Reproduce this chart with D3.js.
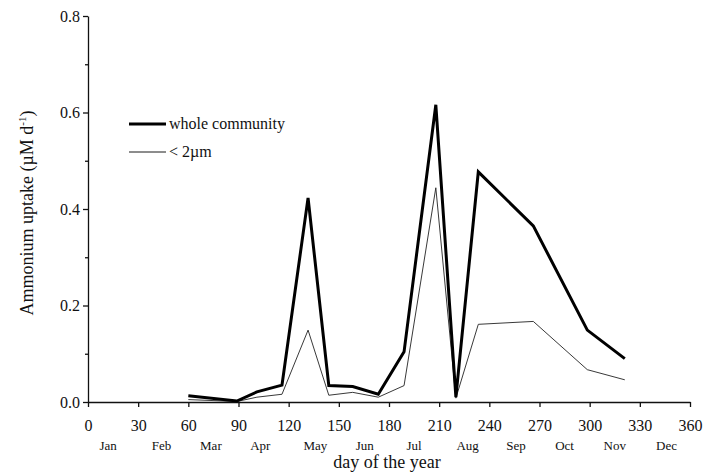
<!DOCTYPE html>
<html>
<head>
<meta charset="utf-8">
<script src="https://cdn.jsdelivr.net/npm/d3@7"></script>
</head>
<body style="margin:0;background:#fff">
<svg id="graph" width="719" height="472"></svg>
<script>
// day of the year for each sampling
const days = [60, 89, 101, 116, 131.6, 144, 158.3, 173.6, 189, 208, 220, 233.4, 266.3, 298.6, 321];
// ammonium uptake, whole community
const wholeCommunity = [0.013, 0.002, 0.021, 0.035, 0.423, 0.034, 0.032, 0.016, 0.104, 0.616, 0.01, 0.477, 0.365, 0.149, 0.09];
// ammonium uptake, < 2 µm fraction
const smallFraction = [0.005, 0.001, 0.01, 0.016, 0.149, 0.014, 0.02, 0.01, 0.034, 0.444, 0.008, 0.161, 0.167, 0.067, 0.046];

const xTicks = d3.range(0, 361, 30);
const yTicks = [0, 0.2, 0.4, 0.6, 0.8];
const yMinorTicks = [0.1, 0.3, 0.5, 0.7];
const monthNames = ["Jan", "Feb", "Mar", "Apr", "May", "Jun", "Jul", "Aug", "Sep", "Oct", "Nov", "Dec"];
const monthDays = [12, 44, 73.5, 103, 136, 165.5, 195, 227, 256, 285, 315, 346];

const serif = "Liberation Serif, serif";

const svg = d3.select("#graph");

const x = d3.scaleLinear().domain([0, 360]).range([88, 690]);
const y = d3.scaleLinear().domain([0, 0.8]).range([402, 16]);

// axes
svg.append("g")
  .attr("transform", `translate(0,${y(0)})`)
  .call(d3.axisBottom(x).tickValues(xTicks).tickSize(5).tickPadding(13).tickSizeOuter(0));

svg.append("g")
  .attr("transform", `translate(${x(0)},0)`)
  .call(d3.axisLeft(y).tickValues(yTicks).tickFormat(d3.format(".1f")).tickSize(5).tickPadding(3).tickSizeOuter(0));

svg.append("g")
  .attr("transform", `translate(${x(0)},0)`)
  .call(d3.axisLeft(y).tickValues(yMinorTicks).tickFormat("").tickSize(3).tickSizeOuter(0))
  .select(".domain").remove();

svg.selectAll("g").attr("font-family", serif);
svg.selectAll(".domain, .tick line").attr("stroke", "#111").attr("stroke-width", 1.3);
svg.selectAll(".tick text")
  .attr("font-size", 16)
  .attr("fill", "#111");

// month labels under the day ticks
svg.append("g")
  .attr("font-family", serif)
  .selectAll("text")
  .data(monthNames)
  .enter()
  .append("text")
  .attr("x", (d, i) => x(monthDays[i]))
  .attr("y", 449.5)
  .attr("text-anchor", "middle")
  .attr("font-size", 13)
  .attr("fill", "#111")
  .text((d) => d);

// axis titles
svg.append("text")
  .attr("x", 387)
  .attr("y", 467.5)
  .attr("text-anchor", "middle")
  .attr("font-family", serif)
  .attr("font-size", 18)
  .attr("fill", "#111")
  .text("day of the year");

const yTitle = svg.append("text")
  .attr("transform", "translate(33,213) rotate(-90)")
  .attr("text-anchor", "middle")
  .attr("font-family", serif)
  .attr("font-size", 18)
  .attr("fill", "#111");
yTitle.append("tspan").text("Ammonium uptake (\u00b5M d");
yTitle.append("tspan").attr("dy", -7).attr("font-size", 11).text("-1");
yTitle.append("tspan").attr("dy", 7).text(")");

// lines
const line = (values) =>
  d3.line()
    .x((d) => x(d))
    .y((d, i) => y(values[i]))(days);

svg.append("path")
  .attr("d", line(smallFraction))
  .attr("fill", "none")
  .attr("stroke", "#222")
  .attr("stroke-width", 0.9)
  .attr("stroke-linejoin", "miter");

svg.append("path")
  .attr("d", line(wholeCommunity))
  .attr("fill", "none")
  .attr("stroke", "#000")
  .attr("stroke-width", 3)
  .attr("stroke-linejoin", "miter");

// legend
const legend = svg.append("g").attr("transform", "translate(129,124)");
const legendItems = [
  { label: "whole community", width: 3 },
  { label: "< 2\u00b5m", width: 0.9 },
];
legend.selectAll("line")
  .data(legendItems)
  .enter()
  .append("line")
  .attr("x1", 0)
  .attr("x2", 37)
  .attr("y1", (d, i) => i * 28)
  .attr("y2", (d, i) => i * 28)
  .attr("stroke", "#000")
  .attr("stroke-width", (d) => d.width);
legend.selectAll("text")
  .data(legendItems)
  .enter()
  .append("text")
  .attr("x", 40)
  .attr("y", (d, i) => i * 28 + 4.5)
  .attr("font-family", serif)
  .attr("font-size", 16)
  .attr("fill", "#111")
  .text((d) => d.label);
</script>
</body>
</html>
